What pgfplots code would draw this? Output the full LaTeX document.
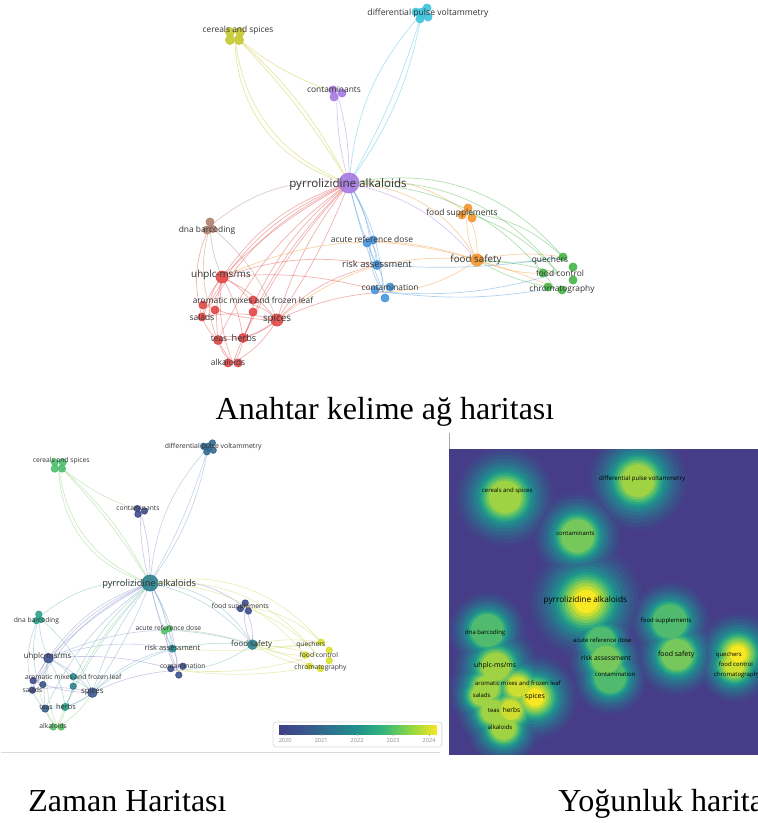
\documentclass[border=0pt]{standalone}
\usepackage{pgfplots}
\pgfplotsset{compat=1.18}
\usepackage{pgfplotstable}
\usepackage{fontspec}
\setmainfont{Liberation Serif}
\newfontfamily\vosfont{Open Sans}
\usetikzlibrary{calc}

% ---------- cluster colours (network map) ----------
\definecolor{cRed}{RGB}{226,72,72}
\definecolor{cGrn}{RGB}{70,182,70}
\definecolor{cBlu}{RGB}{72,150,222}
\definecolor{cYel}{RGB}{198,200,48}
\definecolor{cPur}{RGB}{166,122,226}
\definecolor{cCya}{RGB}{62,196,220}
\definecolor{cOra}{RGB}{244,148,46}
\definecolor{cBrn}{RGB}{176,128,112}
% ---------- link colours (overlay map) ----------
\definecolor{oBlu}{RGB}{125,155,200}
\definecolor{oTea}{RGB}{105,178,188}
\definecolor{oGrn}{RGB}{140,205,120}
\definecolor{oYel}{RGB}{205,215,90}
\definecolor{oPur}{RGB}{140,125,200}
% ---------- density levels ----------
\definecolor{dbg}{RGB}{70,60,135}
\definecolor{dl1}{RGB}{67,66,136}
\definecolor{dl2}{RGB}{62,75,137}
\definecolor{dl3}{RGB}{57,86,139}
\definecolor{dl4}{RGB}{51,99,140}
\definecolor{dl5}{RGB}{45,112,141}
\definecolor{dl6}{RGB}{39,126,142}
\definecolor{dl7}{RGB}{34,140,141}
\definecolor{dl8}{RGB}{34,154,137}
\definecolor{dl9}{RGB}{50,170,128}
\definecolor{dl10}{RGB}{80,186,110}
\definecolor{dl11}{RGB}{118,199,92}
\definecolor{dl12}{RGB}{160,211,68}
\definecolor{dl13}{RGB}{205,222,48}
\definecolor{dl14}{RGB}{248,231,35}

\pgfplotsset{colormap={vos}{rgb255=(64,62,134) rgb255=(57,86,140) rgb255=(45,115,142)
  rgb255=(33,145,140) rgb255=(53,183,121) rgb255=(144,215,67) rgb255=(248,230,33)}}

% ---------- keyword items: position, radius (px), cluster, average year ----------
\pgfplotstableread[col sep=comma]{
x,y,r,cl,yr
0,0,10,pur,2021.6
73,170,5,cya,2021.0
67,171,4,cya,2021.0
78,175,4,cya,2021.0
71,164,4,cya,2021.0
79,166,4,cya,2021.0
-119,151,4.5,yel,2022.9
-109,151,4.5,yel,2022.9
-119,143,4.5,yel,2022.9
-110,143,4.5,yel,2022.9
-16,93,4,pur,2020.1
-7,90,4,pur,2020.1
-15,86,4,pur,2020.1
119,-25,4,ora,2020.2
113,-32,4,ora,2020.2
123,-35,4,ora,2020.2
-139,-39,4,brn,2022.3
-142,-47,4,brn,2022.3
-136,-46,3.5,brn,2022.3
24,-57,4,blu,2023.0
18,-60,4,blu,2023.0
28,-82,4.5,blu,2021.8
41,-104,4,blu,2020.3
26,-107,4,blu,2020.3
36,-115,4,blu,2020.3
128,-77,6,ora,2021.6
214,-74,4,grn,2024.0
224,-84,4,grn,2024.0
194,-90,4,grn,2024.0
224,-97,4,grn,2024.0
199,-104,4,grn,2024.0
213,-107,4,grn,2024.0
-127,-94,6,red,2020.3
-146,-122,4,red,2020.1
-134,-127,4,red,2020.2
-96,-117,4,red,2021.8
-96,-129,4,red,2021.6
-147,-134,4,red,2020.1
-72,-137,6,red,2020.5
-131,-157,4.5,red,2020.7
-106,-155,4.5,red,2022.3
-121,-180,4,red,2023.0
-111,-180,4,red,2023.0
}\tabNodes

\pgfplotstableread[col sep=comma]{
lx,ly,fs,label
79,170,4.3,differential pulse voltammetry
-111,153,4.2,cereals and spices
-15,94,4.2,contaminants
-1,-1,5.8,pyrrolizidine alkaloids
113,-30,4.2,food supplements
-142,-47,4.2,dna barcoding
23,-56,4.2,acute reference dose
28,-81,4.7,risk assessment
41,-104,4.2,contamination
127,-77,4.9,food safety
201,-77,4.2,quechers
211,-90,4.2,food control
213,-106,4.2,chromatography
-128,-92,4.9,uhplc-ms/ms
-96,-117,4.2,aromatic mixes and frozen leaf
-147,-134,4.2,salads
-72,-136,4.9,spices
-130,-156,4.2,teas
-105,-155,4.6,herbs
-121,-179,4.2,alkaloids
}\tabLabels

% ---------- density kernels: centre, reach R, peak level pk ----------
\pgfplotstableread[col sep=comma]{
x,y,R,pk
118,-30,56,10
-139,-43,54,10
21,-58,47,10
34,-109,52,10
28,-84,52,11
73,168,70,12
-114,145,70,12
-12,90,62,11
128,-77,58,11
-127,-94,60,12
-140,-124,52,12
-96,-122,52,13
-147,-134,45,12
-131,-157,50,12
-116,-180,52,12
0,-2,80,14
214,-76,58,14
209,-92,52,13
-72,-137,60,14
-106,-155,52,13
}\densAll

% ---------- item centres used by the links ----------
\def\ndP{0,0}      \def\ndD{73,170}    \def\ndC{-114,147}  \def\ndK{-12,90}
\def\ndFS{118,-30} \def\ndDN{-139,-43} \def\ndA{21,-58}    \def\ndR{28,-82}
\def\ndCT{34,-109} \def\ndF{128,-77}   \def\ndQ{214,-74}   \def\ndFC{209,-90}
\def\ndCH{206,-105}\def\ndU{-127,-94}  \def\ndAL{-140,-124}\def\ndAR{-96,-122}
\def\ndS{-147,-134}\def\ndSP{-72,-137} \def\ndT{-131,-157} \def\ndH{-106,-155}
\def\ndAK{-116,-180}

\tikzset{lnk/.style={line width=0.35pt, draw opacity=0.42}}
\newif\ifovl
% link: from, to, bend, colour in cluster map, colour in overlay map
\newcommand\E[5]{%
  \ifovl\def\ec{#5}\else\def\ec{#4}\fi
  \edef\tmp{\noexpand\draw[lnk,draw=\ec] (axis cs:#1) to[#3] (axis cs:#2);}\tmp}

\newcommand\alllinks{%
\E{\ndP}{\ndD}{bend right=12}{cCya}{oBlu}
\E{\ndP}{\ndD}{bend right=6}{cCya}{oBlu}
\E{\ndP}{\ndD}{bend left=18}{cCya}{oBlu}
\E{\ndP}{\ndC}{bend left=38}{cYel}{oGrn}
\E{\ndP}{\ndC}{bend left=32}{cYel}{oGrn}
\E{\ndP}{\ndC}{bend right=10}{cYel}{oGrn}
\E{\ndP}{\ndC}{bend right=6}{cYel}{oGrn}
\E{\ndP}{\ndK}{bend left=8}{cPur}{oPur}
\E{\ndP}{\ndK}{bend right=8}{cPur}{oPur}
\E{\ndP}{\ndFS}{bend left=22}{cOra}{oPur}
\E{\ndP}{\ndF}{bend left=28}{cOra}{oTea}
\E{\ndP}{\ndF}{bend left=18}{cPur}{oTea}
\E{\ndP}{\ndQ}{bend left=30}{cGrn}{oYel}
\E{\ndP}{\ndFC}{bend left=28}{cGrn}{oYel}
\E{\ndP}{\ndCH}{bend left=26}{cGrn}{oYel}
\E{\ndP}{\ndA}{bend left=12}{cBlu}{oTea}
\E{\ndP}{\ndR}{bend left=10}{cBlu}{oTea}
\E{\ndP}{\ndR}{bend right=6}{cBlu}{oTea}
\E{\ndP}{\ndCT}{bend left=14}{cBlu}{oPur}
\E{\ndP}{\ndCT}{bend right=4}{cBlu}{oPur}
\E{\ndP}{\ndDN}{bend right=22}{cBrn}{oTea}
\E{\ndP}{\ndU}{bend right=18}{cRed}{oBlu}
\E{\ndP}{\ndU}{bend right=8}{cRed}{oBlu}
\E{\ndP}{\ndAL}{bend right=16}{cRed}{oPur}
\E{\ndP}{\ndAR}{bend right=12}{cRed}{oTea}
\E{\ndP}{\ndS}{bend right=20}{cRed}{oPur}
\E{\ndP}{\ndSP}{bend right=10}{cRed}{oBlu}
\E{\ndP}{\ndSP}{bend left=6}{cRed}{oBlu}
\E{\ndP}{\ndT}{bend right=14}{cRed}{oBlu}
\E{\ndP}{\ndH}{bend right=8}{cRed}{oTea}
\E{\ndP}{\ndAK}{bend right=12}{cRed}{oGrn}
\E{\ndF}{\ndFS}{bend left=15}{cOra}{oPur}
\E{\ndF}{\ndFS}{bend right=15}{cOra}{oPur}
\E{\ndF}{\ndQ}{bend left=10}{cOra}{oYel}
\E{\ndF}{\ndQ}{bend right=8}{cGrn}{oYel}
\E{\ndF}{\ndFC}{bend left=6}{cGrn}{oYel}
\E{\ndF}{\ndFC}{bend right=12}{cOra}{oYel}
\E{\ndF}{\ndCH}{bend right=10}{cGrn}{oYel}
\E{\ndF}{\ndCH}{bend left=4}{cOra}{oYel}
\E{\ndF}{\ndSP}{bend right=22}{cOra}{oTea}
\E{\ndF}{\ndU}{bend right=20}{cOra}{oBlu}
\E{\ndF}{\ndCT}{bend left=16}{cOra}{oTea}
\E{\ndFS}{\ndQ}{bend left=18}{cGrn}{oYel}
\E{\ndFS}{\ndFC}{bend left=14}{cGrn}{oYel}
\E{\ndA}{\ndR}{bend left=20}{cBlu}{oTea}
\E{\ndA}{\ndR}{bend right=20}{cBlu}{oTea}
\E{\ndR}{\ndCT}{bend left=18}{cBlu}{oPur}
\E{\ndA}{\ndCT}{bend right=18}{cBlu}{oPur}
\E{\ndCT}{\ndFC}{bend right=10}{cBlu}{oYel}
\E{\ndCT}{\ndCH}{bend right=8}{cBlu}{oYel}
\E{\ndR}{\ndQ}{bend right=6}{cBlu}{oYel}
\E{\ndA}{\ndF}{bend left=8}{cOra}{oGrn}
\E{\ndSP}{\ndR}{bend left=15}{cRed}{oBlu}
\E{\ndSP}{\ndCT}{bend left=10}{cRed}{oPur}
\E{\ndU}{\ndR}{bend left=14}{cRed}{oBlu}
\E{\ndU}{\ndCT}{bend left=10}{cRed}{oPur}
\E{\ndDN}{\ndU}{bend right=10}{cBrn}{oTea}
\E{\ndDN}{\ndSP}{bend left=14}{cBrn}{oTea}
\E{\ndDN}{\ndAL}{bend right=15}{cBrn}{oTea}
\E{\ndDN}{\ndS}{bend right=20}{cRed}{oBlu}
\E{\ndU}{\ndAL}{bend right=15}{cRed}{oPur}
\E{\ndU}{\ndAR}{bend left=15}{cRed}{oTea}
\E{\ndU}{\ndS}{bend right=12}{cRed}{oPur}
\E{\ndU}{\ndSP}{bend left=12}{cRed}{oBlu}
\E{\ndU}{\ndT}{bend right=10}{cRed}{oBlu}
\E{\ndU}{\ndH}{bend left=10}{cRed}{oTea}
\E{\ndU}{\ndAK}{bend right=14}{cRed}{oGrn}
\E{\ndSP}{\ndH}{bend left=12}{cRed}{oTea}
\E{\ndSP}{\ndT}{bend left=18}{cRed}{oBlu}
\E{\ndSP}{\ndAK}{bend left=14}{cRed}{oGrn}
\E{\ndSP}{\ndS}{bend right=12}{cRed}{oPur}
\E{\ndSP}{\ndAL}{bend left=10}{cRed}{oPur}
\E{\ndSP}{\ndAR}{bend right=15}{cRed}{oTea}
\E{\ndT}{\ndAK}{bend right=18}{cRed}{oGrn}
\E{\ndH}{\ndAK}{bend left=16}{cRed}{oGrn}
\E{\ndT}{\ndH}{bend left=20}{cRed}{oTea}
\E{\ndS}{\ndT}{bend right=14}{cRed}{oBlu}
\E{\ndAL}{\ndAK}{bend right=16}{cRed}{oGrn}
\E{\ndAR}{\ndH}{bend left=12}{cRed}{oTea}
\E{\ndC}{\ndK}{bend right=10}{cYel}{oGrn}
}

% one density level: level number, share of the reach, colour
\newcommand\dlevel[3]{%
  \addplot[scatter, only marks, mark=*, point meta=\thisrow{R},
    scatter/use mapped color={draw=#3, fill=#3},
    restrict expr to domain={\thisrow{pk}}{#1:20},
    visualization depends on={\thisrow{R} \as \bR},
    scatter/@pre marker code/.append style={/tikz/mark size=\bR*0.355*#2}]
    table[x=x, y=y] {\densAll};}

\pgfplotsset{
  map/.style={hide axis, clip=false, anchor=south west},
  lbl/.style={only marks, mark=none, nodes near coords, point meta=explicit symbolic,
    visualization depends on={\thisrow{fs} \as \lblfs},
    every node near coord/.append style={anchor=center, inner sep=0pt, text=#1,
      font={\vosfont\pgfmathsetmacro\lfs{\lblfs*\mapscale}\fontsize{\lfs pt}{\lfs pt}\selectfont}}},
}

\begin{document}
\begin{tikzpicture}
\useasboundingbox (0,0) rectangle (379pt,-411.5pt);
\clip (0,0) rectangle (379pt,-411.5pt);
\fill[white] (0,0) rectangle (379pt,-411.5pt);

% ===== keyword network, coloured by cluster =====
\def\mapscale{1}\def\pxu{0.5}\ovlfalse
\begin{axis}[map, at={(75pt,-192.5pt)}, x=0.5pt, y=0.5pt,
  xmin=-199, xmax=281, ymin=-202, ymax=183]
  \alllinks
  \addplot[scatter, only marks, mark=*, point meta=explicit symbolic,
    scatter/classes={red={fill=cRed,draw=cRed}, grn={fill=cGrn,draw=cGrn},
      blu={fill=cBlu,draw=cBlu}, yel={fill=cYel,draw=cYel}, pur={fill=cPur,draw=cPur},
      cya={fill=cCya,draw=cCya}, ora={fill=cOra,draw=cOra}, brn={fill=cBrn,draw=cBrn}},
    visualization depends on={\thisrow{r} \as \rr},
    scatter/@pre marker code/.append style={/tikz/mark size=\rr*\pxu},
    fill opacity=0.9, draw opacity=0.9]
    table[x=x, y=y, meta=cl] {\tabNodes};
  \addplot[lbl=black!80] table[x=lx, y=ly, meta=label] {\tabLabels};
\end{axis}

\node[anchor=base, inner sep=0pt, font=\fontsize{16}{19}\selectfont] at (192.5pt,-209.5pt) {Anahtar kelime ağ haritası};

% ===== overlay map, coloured by average publication year =====
\def\mapscale{0.8}\def\pxu{0.4}\ovltrue
\tikzset{lnk/.style={line width=0.3pt, draw opacity=0.45}}
\begin{axis}[map, at={(0pt,-376.5pt)}, x=0.4pt, y=0.4pt,
  xmin=-187.5, xmax=368.75, ymin=-212.5, ymax=188.75,
  colormap name=vos, point meta min=2019.8, point meta max=2024.22,
  colorbar horizontal,
  colorbar style={at={($(parent axis.south west)+(139pt,18pt)$)}, anchor=south west,
    scale only axis, width=79.5pt, height=4.5pt,
    axis line style={draw=none},
    xtick={2020,2021,2022,2023,2024}, xticklabels={2020,2021,2022,2023,2024},
    xtick pos=bottom, tick align=outside, major tick length=1.2pt,
    xtick style={draw=black!30, line width=0.3pt},
    xticklabel style={font=\vosfont\fontsize{2.8}{3}\selectfont, text=black!45, inner sep=1pt}}]
  \draw[black!14, fill=white, rounded corners=1.5pt, line width=0.4pt]
    (rel axis cs:0.6135,0.0187) rectangle (rel axis cs:0.993,0.0966);
  \alllinks
  \addplot[scatter, only marks, mark=*, point meta=explicit,
    visualization depends on={\thisrow{r} \as \rr},
    scatter/use mapped color={draw=mapped color, fill=mapped color},
    scatter/@pre marker code/.append style={/tikz/mark size=\rr*\pxu},
    fill opacity=0.88, draw opacity=0.88]
    table[x=x, y=y, meta=yr] {\tabNodes};
  \addplot[lbl=black!80] table[x=lx, y=ly, meta=label] {\tabLabels};
\end{axis}
\draw[black!15, line width=0.5pt] (0.5pt,-376pt) -- (220pt,-376pt);

% ===== density map =====
\def\mapscale{0.71}
\begin{axis}[hide axis, anchor=south west, at={(224.5pt,-377.5pt)}, x=0.355pt, y=0.355pt,
  xmin=-193, xmax=242, ymin=-218.3, ymax=212.7, clip=true, clip marker paths=true]
  \fill[dbg] (rel axis cs:0,0) rectangle (rel axis cs:1,1);
  \dlevel{1}{1.00}{dl1}
  \dlevel{2}{0.92}{dl2}
  \dlevel{3}{0.84}{dl3}
  \dlevel{4}{0.76}{dl4}
  \dlevel{5}{0.69}{dl5}
  \dlevel{6}{0.62}{dl6}
  \dlevel{7}{0.56}{dl7}
  \dlevel{8}{0.51}{dl8}
  \dlevel{9}{0.47}{dl9}
  \dlevel{10}{0.42}{dl10}
  \dlevel{11}{0.37}{dl11}
  \dlevel{12}{0.32}{dl12}
  \dlevel{13}{0.26}{dl13}
  \dlevel{14}{0.20}{dl14}
  \addplot[lbl=black] table[x=lx, y=ly, meta=label] {\tabLabels};
\end{axis}
% white margins round the density panel
\fill[white] (224pt,-214pt) rectangle (379pt,-224.5pt);
\fill[white] (224pt,-377.5pt) rectangle (379pt,-385pt);
\draw[black!35, line width=0.4pt] (224.5pt,-216.5pt) -- (224.5pt,-224.5pt);

\node[anchor=base west, inner sep=0pt, font=\fontsize{16}{19}\selectfont] at (14pt,-405.5pt) {Zaman Haritası};
\node[anchor=base west, inner sep=0pt, font=\fontsize{16}{19}\selectfont] at (279pt,-405.5pt) {Yoğunluk haritası};
\end{tikzpicture}
\end{document}
